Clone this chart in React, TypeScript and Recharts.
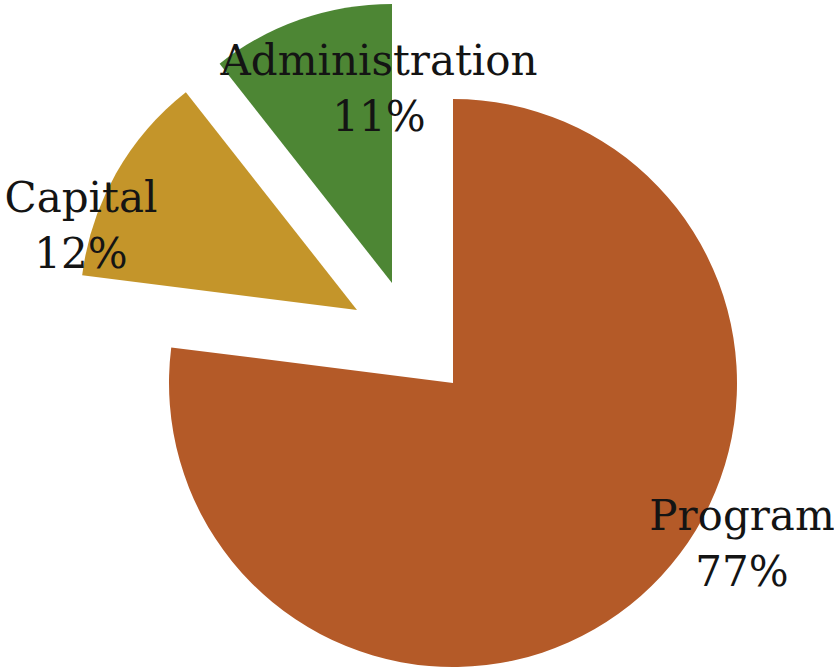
import React from 'react';
import { PieChart, Pie, Cell } from 'recharts';

const categories = ['Program', 'Capital', 'Administration'];
const values = [77, 12.4, 10.6];
const percentLabels = ['77%', '12%', '11%'];
const colors = ['#B45A28', '#C4952A', '#4D8634'];

const data = categories.map((name, i) => ({ name, value: values[i] }));

// layout (exploded slice centres, radii, label offsets)
const slices = [
  { cx: 453, cy: 383, r: 284, ldx: 289, ldy: 147 },
  { cx: 357, cy: 310, r: 277, ldx: -276, ldy: -98 },
  { cx: 392, cy: 283, r: 279, ldx: -13, ldy: -208 },
];

const FONT = '"DejaVu Serif", serif';

const makeLabel = (which: number) => (props: any) => {
  if (props.index !== which) return null;
  const s = slices[which];
  const x = props.cx + s.ldx;
  const y = props.cy + s.ldy;
  return (
    <text
      key={`lbl-${which}`}
      x={x}
      y={y}
      textAnchor="middle"
      fill="#141414"
      fontFamily={FONT}
      fontSize={42}
    >
      <tspan x={x} dy={0}>{categories[which]}</tspan>
      <tspan x={x} dy={56}>{percentLabels[which]}</tspan>
    </text>
  );
};

export default function App() {
  return (
    <div style={{ position: 'absolute', left: 0, top: 0, width: 834, height: 671, background: '#fff' }}>
      <PieChart width={834} height={671} margin={{ top: 0, right: 0, bottom: 0, left: 0 }}>
        {slices.map((s, k) => (
          <Pie
            key={k}
            data={data}
            dataKey="value"
            nameKey="name"
            cx={s.cx}
            cy={s.cy}
            outerRadius={s.r}
            innerRadius={0}
            startAngle={90}
            endAngle={-270}
            stroke="none"
            isAnimationActive={false}
            labelLine={false}
            label={makeLabel(k)}
          >
            {data.map((d, i) => (
              <Cell key={d.name} fill={i === k ? colors[i] : 'transparent'} stroke="none" />
            ))}
          </Pie>
        ))}
      </PieChart>
    </div>
  );
}
